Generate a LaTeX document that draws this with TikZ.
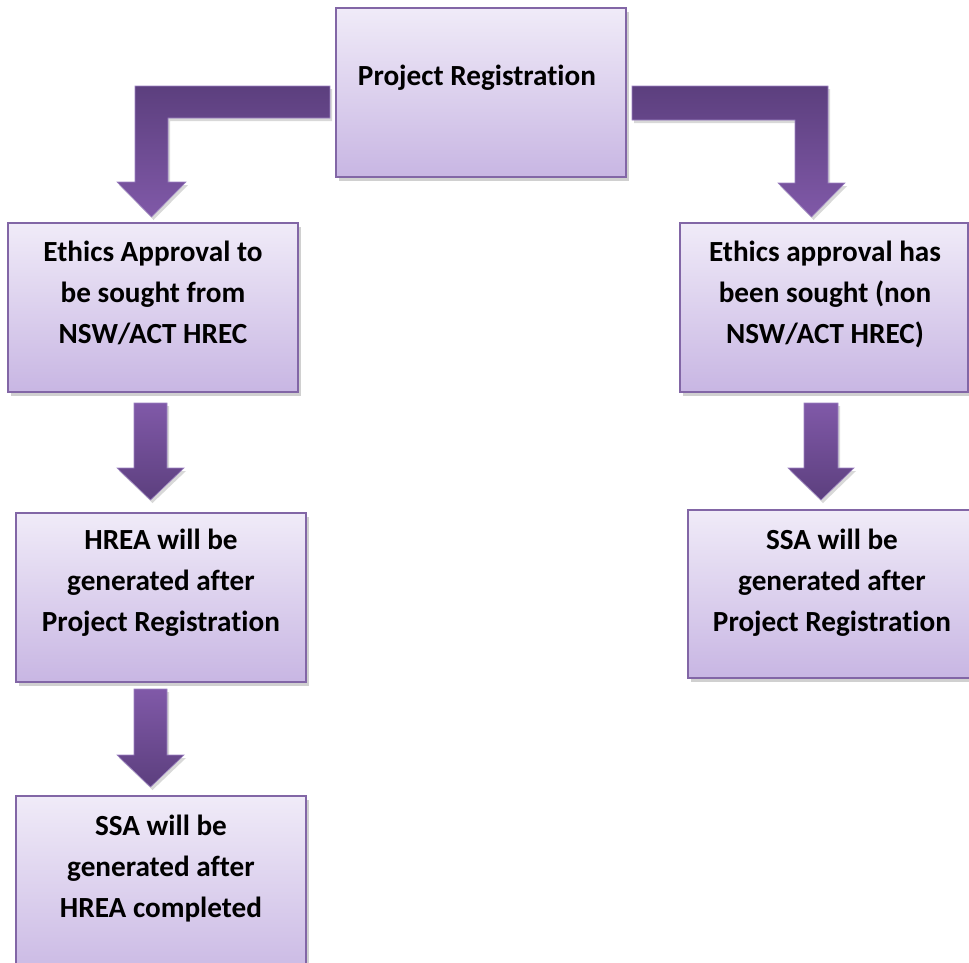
\documentclass[tikz,border=0pt]{standalone}
\usepackage{fontspec}
\setmainfont{Carlito}[RawFeature={-liga;-clig}]
\usetikzlibrary{shadows}
\definecolor{boxtop}{HTML}{F0EBF8}
\definecolor{boxbot}{HTML}{C8B6E3}
\definecolor{boxline}{HTML}{8266A6}
\definecolor{arrdark}{HTML}{5C3F7E}
\definecolor{arrlight}{HTML}{8059A8}
\definecolor{arredge}{HTML}{9C82C2}
\tikzset{
  box/.style={rectangle, draw=boxline, line width=1.4pt, top color=boxtop, bottom color=boxbot,
    drop shadow={shadow xshift=2.5pt, shadow yshift=-3.5pt, opacity=0.3, fill=black!60}},
  txt/.style={font=\fontsize{29.2}{41}\selectfont\bfseries, align=center, inner sep=0pt, anchor=base},
  bentarrow/.style={draw=arredge, line width=0.6pt, top color=arrdark, bottom color=arrlight,
    drop shadow={shadow xshift=2pt, shadow yshift=-3pt, opacity=0.25, fill=black!60}},
  downarrow/.style={draw=arredge, line width=0.6pt, top color=arrlight, bottom color=arrdark,
    drop shadow={shadow xshift=2pt, shadow yshift=-3pt, opacity=0.25, fill=black!60}},
}
\begin{document}
\begin{tikzpicture}[x=1pt,y=-1pt]
\useasboundingbox[fill=white] (0,0) rectangle (969,962);

% boxes
\node[box, minimum width=290pt, minimum height=169pt] (pr) at (481,92.5) {};
\node[box, minimum width=290pt, minimum height=169pt] (e1) at (153,307.5) {};
\node[box, minimum width=290pt, minimum height=169pt] (h1) at (161,597.5) {};
\node[box, minimum width=290pt, minimum height=190pt] (s1) at (161,891) {};
\node[box, minimum width=288pt, minimum height=169pt] (e2) at (824,307.5) {};
\node[box, minimum width=288pt, minimum height=168pt] (s2) at (832,594) {};

% texts (base = last line's baseline)
\node[txt] (prt) at (477,85) {Project Registration};
\node[txt] (e1t) at (153,343) {Ethics Approval to\\be sought from\\NSW/ACT HREC};
\node[txt] (h1t) at (161,631) {HREA will be\\generated after\\Project Registration};
\node[txt] (s1t) at (161,917) {SSA will be\\generated after\\HREA completed};
\node[txt] (e2t) at (825,343) {Ethics approval has\\been sought (non\\NSW/ACT HREC)};
\node[txt] (s2t) at (832,631) {SSA will be\\generated after\\Project Registration};

% bent arrows from Project Registration
\path[bentarrow] (330,86) -- (135,86) -- (135,182) -- (117,182) -- (151.5,217) -- (186,182)
  -- (168,182) -- (168,118) -- (330,118) -- cycle;
\path[bentarrow] (632,86) -- (828,86) -- (828,183) -- (845,183) -- (811.5,217) -- (778,183)
  -- (795,183) -- (795,120) -- (632,120) -- cycle;

% straight down arrows
\path[downarrow] (134,403) -- (167,403) -- (167,468) -- (184,468) -- (150.5,500) -- (117,468)
  -- (134,468) -- cycle;
\path[downarrow] (134,689) -- (167,689) -- (167,755) -- (184,755) -- (150.5,787) -- (117,755)
  -- (134,755) -- cycle;
\path[downarrow] (804,403) -- (838,403) -- (838,468) -- (854,468) -- (821,500) -- (788,468)
  -- (804,468) -- cycle;
\end{tikzpicture}
\end{document}
